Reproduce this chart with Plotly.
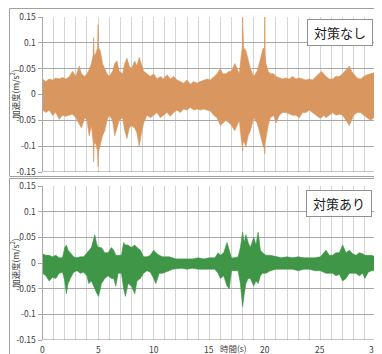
import plotly.graph_objects as go

# ---- data (upper / lower envelope of each waveform) ----
t_before = [0.0, 0.3, 0.6, 0.9, 1.2, 1.5, 1.8, 2.1, 2.4, 2.7, 3.0, 3.3, 3.5, 3.8, 4.0, 4.2, 4.4, 4.55, 4.6, 4.65,
            4.8, 4.95, 5.0, 5.05, 5.2, 5.4, 5.6, 5.8, 6.0, 6.3, 6.5, 6.7, 6.9, 7.2, 7.4, 7.6, 7.8, 8.0, 8.3, 8.5,
            8.7, 8.9, 9.1, 9.4, 9.7, 10.0, 10.3, 10.6, 10.9, 11.2, 11.5, 11.8, 12.1, 12.4, 12.7, 13.0, 13.3,
            13.6, 13.9, 14.2, 14.5, 14.8, 15.1, 15.4, 15.7, 16.0, 16.2, 16.5, 16.8, 17.0, 17.3, 17.5, 17.7,
            17.9, 17.97, 18.0, 18.03, 18.1, 18.3, 18.5, 18.7, 19.0, 19.3, 19.5, 19.7, 19.85, 19.97, 20.0, 20.03,
            20.1, 20.3, 20.5, 20.8, 21.0, 21.3, 21.6, 21.9, 22.2, 22.5, 22.8, 23.1, 23.4, 23.7, 24.0, 24.3,
            24.6, 24.9, 25.1, 25.3, 25.5, 25.8, 26.1, 26.4, 26.7, 27.0, 27.3, 27.6, 27.8, 28.0, 28.3, 28.6,
            28.9, 29.2, 29.5, 29.8, 30.0]
up_before = [0.030, 0.025, 0.030, 0.028, 0.032, 0.030, 0.033, 0.030, 0.034, 0.045, 0.035, 0.055, 0.040, 0.035,
             0.040, 0.048, 0.060, 0.075, 0.110, 0.075, 0.080, 0.090, 0.135, 0.090, 0.085, 0.060, 0.050, 0.040,
             0.035, 0.045, 0.060, 0.065, 0.045, 0.040, 0.060, 0.070, 0.055, 0.050, 0.065, 0.055, 0.072, 0.060,
             0.045, 0.040, 0.035, 0.040, 0.030, 0.035, 0.030, 0.038, 0.030, 0.035, 0.028, 0.025, 0.022, 0.028,
             0.020, 0.025, 0.022, 0.025, 0.028, 0.030, 0.028, 0.035, 0.040, 0.050, 0.040, 0.040, 0.045, 0.045,
             0.060, 0.050, 0.040, 0.080, 0.090, 0.150, 0.095, 0.090, 0.085, 0.065, 0.050, 0.035, 0.045, 0.060,
             0.075, 0.090, 0.085, 0.150, 0.080, 0.060, 0.045, 0.040, 0.040, 0.035, 0.032, 0.030, 0.032, 0.030,
             0.035, 0.030, 0.032, 0.030, 0.028, 0.030, 0.028, 0.035, 0.040, 0.045, 0.040, 0.035, 0.030, 0.030,
             0.035, 0.035, 0.040, 0.048, 0.055, 0.045, 0.040, 0.032, 0.030, 0.035, 0.038, 0.040, 0.042, 0.040]
lo_before = [-0.030, -0.035, -0.030, -0.040, -0.035, -0.048, -0.040, -0.042, -0.040, -0.038, -0.045, -0.058,
             -0.065, -0.045, -0.050, -0.080, -0.060, -0.090, -0.130, -0.095, -0.095, -0.110, -0.140, -0.110,
             -0.100, -0.080, -0.070, -0.050, -0.040, -0.050, -0.080, -0.065, -0.050, -0.045, -0.070, -0.085,
             -0.065, -0.060, -0.065, -0.075, -0.100, -0.075, -0.055, -0.040, -0.045, -0.040, -0.035, -0.045,
             -0.040, -0.035, -0.042, -0.035, -0.030, -0.035, -0.028, -0.030, -0.025, -0.030, -0.028, -0.030,
             -0.028, -0.030, -0.032, -0.040, -0.045, -0.060, -0.055, -0.050, -0.055, -0.060, -0.070, -0.060,
             -0.050, -0.090, -0.100, -0.110, -0.095, -0.090, -0.100, -0.080, -0.070, -0.045, -0.055, -0.070,
             -0.085, -0.100, -0.105, -0.115, -0.095, -0.085, -0.060, -0.045, -0.040, -0.055, -0.040, -0.035,
             -0.035, -0.038, -0.040, -0.040, -0.045, -0.035, -0.035, -0.030, -0.035, -0.040, -0.045, -0.045,
             -0.040, -0.045, -0.040, -0.035, -0.040, -0.038, -0.040, -0.050, -0.060, -0.050, -0.040, -0.035,
             -0.035, -0.040, -0.045, -0.050, -0.045, -0.045]

t_after = [0.0, 0.3, 0.6, 0.9, 1.2, 1.5, 1.8, 2.0, 2.15, 2.3, 2.5, 2.8, 3.1, 3.4, 3.7, 4.0, 4.15, 4.4, 4.7, 4.9,
           5.05, 5.3, 5.6, 5.9, 6.2, 6.4, 6.6, 6.8, 7.1, 7.3, 7.45, 7.7, 8.0, 8.3, 8.5, 8.8, 9.1, 9.4, 9.7, 10.0,
           10.2, 10.5, 10.8, 11.1, 11.4, 11.7, 12.0, 12.5, 13.0, 13.5, 14.0, 14.5, 15.0, 15.5, 15.8, 16.0, 16.3,
           16.6, 16.8, 17.0, 17.3, 17.6, 17.8, 18.0, 18.15, 18.3, 18.5, 18.7, 19.0, 19.2, 19.4, 19.6, 19.8, 20.1,
           20.5, 21.0, 21.5, 22.0, 22.5, 23.0, 23.5, 24.0, 24.5, 25.0, 25.3, 25.5, 25.8, 26.1, 26.4, 26.7, 27.0,
           27.3, 27.6, 27.9, 28.2, 28.5, 28.8, 29.0, 29.3, 29.6, 30.0]
up_after = [0.018, 0.015, 0.015, 0.012, 0.015, 0.010, 0.010, 0.030, 0.035, 0.025, 0.020, 0.012, 0.010, 0.012,
            0.012, 0.020, 0.025, 0.030, 0.055, 0.035, 0.030, 0.030, 0.020, 0.020, 0.030, 0.025, 0.015, 0.015,
            0.015, 0.040, 0.035, 0.035, 0.030, 0.035, 0.030, 0.025, 0.012, 0.012, 0.015, 0.025, 0.020, 0.015,
            0.012, 0.012, 0.012, 0.010, 0.008, 0.008, 0.008, 0.008, 0.010, 0.008, 0.010, 0.010, 0.020, 0.015,
            0.020, 0.040, 0.025, 0.010, 0.010, 0.012, 0.030, 0.060, 0.040, 0.055, 0.040, 0.030, 0.050, 0.035,
            0.060, 0.025, 0.020, 0.015, 0.015, 0.012, 0.010, 0.012, 0.010, 0.012, 0.010, 0.010, 0.010, 0.012,
            0.020, 0.025, 0.015, 0.015, 0.020, 0.020, 0.035, 0.020, 0.025, 0.018, 0.015, 0.020, 0.018, 0.015,
            0.015, 0.015, 0.012]
lo_after = [-0.020, -0.025, -0.035, -0.028, -0.030, -0.020, -0.018, -0.035, -0.060, -0.040, -0.030, -0.018,
            -0.015, -0.020, -0.018, -0.025, -0.040, -0.035, -0.050, -0.060, -0.065, -0.040, -0.030, -0.025,
            -0.030, -0.030, -0.045, -0.020, -0.020, -0.050, -0.065, -0.040, -0.045, -0.060, -0.035, -0.030,
            -0.020, -0.015, -0.018, -0.030, -0.040, -0.020, -0.020, -0.018, -0.015, -0.012, -0.012, -0.010,
            -0.012, -0.010, -0.012, -0.012, -0.012, -0.012, -0.020, -0.030, -0.025, -0.045, -0.050, -0.015,
            -0.015, -0.015, -0.040, -0.085, -0.060, -0.040, -0.030, -0.030, -0.045, -0.035, -0.040, -0.025,
            -0.020, -0.020, -0.015, -0.012, -0.012, -0.012, -0.012, -0.015, -0.012, -0.012, -0.015, -0.015,
            -0.018, -0.020, -0.020, -0.020, -0.025, -0.022, -0.035, -0.030, -0.020, -0.020, -0.020, -0.025,
            -0.020, -0.030, -0.018, -0.015, -0.015]

y_ticks = [-0.15, -0.1, -0.05, 0, 0.05, 0.1, 0.15]
y_tick_labels = ["-0.15", "-0.1", "-0.05", "0", "0.05", "0.1", "0.15"]
x_ticks = [0, 5, 10, 15, 20, 25, 30]
x_tick_labels = ["0", "5", "10", "15", "20", "25", "30"]
label_before = "対策なし"
label_after = "対策あり"
y_title = "加速度(m/s<sup>2</sup>)"
x_title = "時間(s)"

ORANGE = "#D9975F"
GREEN = "#3E9646"
FONT = "Noto Sans CJK JP"

# page has an 8px body margin; figure occupies the rest of the 382x354 window
OFF = 8
W, H = 382 - OFF, 354 - OFF


def px(x):
    return (x - OFF) / W


def py(y):
    return 1 - (y - OFF) / H


fig = go.Figure()


def band(t, up, lo, color, xa, ya):
    xs = list(t) + list(reversed(t))
    ys = list(up) + list(reversed(lo))
    fig.add_trace(go.Scatter(x=xs, y=ys, mode="lines", fill="toself", fillcolor=color,
                             line=dict(color=color, width=0.6), xaxis=xa, yaxis=ya,
                             showlegend=False, hoverinfo="skip"))


band(t_before, up_before, lo_before, ORANGE, "x", "y")
band(t_after, up_after, lo_after, GREEN, "x2", "y2")

xl, xr = px(42.5), px(376)
dom_top = [py(172), py(17)]
dom_bot = [py(340), py(186)]

GRIDV = "#D4D4D4"
xcommon = dict(range=[0, 30], dtick=1, tick0=0, showgrid=True, gridcolor=GRIDV, gridwidth=1.3,
               zeroline=False, showline=False, domain=[xl, xr], fixedrange=True, ticks="",
               showticklabels=False)
ycommon = dict(range=[-0.15, 0.15], tickvals=y_ticks, ticktext=y_tick_labels, showgrid=True,
               gridcolor="#A8A8A8", gridwidth=1, zeroline=False, showline=True, linecolor="#A8A8A8",
               linewidth=1, ticks="outside", ticklen=4, tickcolor="#A8A8A8",
               tickfont=dict(family=FONT, size=8.5, color="#404040"), fixedrange=True)

fig.update_layout(
    width=W, height=H, margin=dict(l=0, r=0, t=0, b=0, autoexpand=False),
    paper_bgcolor="white", plot_bgcolor="white",
    xaxis=dict(**xcommon, anchor="y"),
    yaxis=dict(**ycommon, domain=dom_top, anchor="x"),
    xaxis2=dict(**xcommon, anchor="y2"),
    yaxis2=dict(**ycommon, domain=dom_bot, anchor="x2"),
)

# x tick labels of the bottom panel, placed on the x2 scale
for v, s in zip(x_ticks, x_tick_labels):
    fig.add_annotation(x=v, y=py(349), xref="x2", yref="paper", xanchor="center", yanchor="middle",
                       xshift=-2 if v == x_ticks[-1] else 0,
                       text=s, showarrow=False, font=dict(family=FONT, size=8.5, color="#404040"))

fig.add_annotation(x=px(233), y=py(348), xref="paper", yref="paper", xanchor="center", yanchor="middle",
                   text=x_title, showarrow=False, font=dict(family=FONT, size=8.5, color="#404040"))

# y axis titles
for yc in (py(94), py(263)):
    fig.add_annotation(x=px(14), y=yc, xref="paper", yref="paper", xanchor="center", yanchor="middle",
                       text=y_title, textangle=-90,
                       showarrow=False, font=dict(family=FONT, size=8.5, color="#404040"))

# legend-like boxes
fig.add_annotation(x=px(339.5), y=py(33), xref="paper", yref="paper", xanchor="center", yanchor="middle",
                   text=label_before, showarrow=False, font=dict(family=FONT, size=13, color="#202020"),
                   bgcolor="white", bordercolor="#909090", borderwidth=1, width=62, height=23)
fig.add_annotation(x=px(339), y=py(203), xref="paper", yref="paper", xanchor="center", yanchor="middle",
                   text=label_after, showarrow=False, font=dict(family=FONT, size=13, color="#202020"),
                   bgcolor="white", bordercolor="#909090", borderwidth=1, width=62, height=23)

# panel frames
fig.add_shape(type="rect", xref="paper", yref="paper", x0=px(9.5), x1=px(392), y0=py(176.5),
              y1=py(8.5), line=dict(color="#A0A0A0", width=1), layer="below")
fig.add_shape(type="rect", xref="paper", yref="paper", x0=px(9.5), x1=px(392), y0=py(370),
              y1=py(178.5), line=dict(color="#A0A0A0", width=1), layer="below")
# bottom axis lines
for xa, ya in (("x", "y"), ("x2", "y2")):
    fig.add_shape(type="line", xref=xa, yref=ya, x0=0, x1=30, y0=-0.15, y1=-0.15,
                  line=dict(color="#8C8C8C", width=1))

fig.write_html("out.html",
               post_script="document.documentElement.style.overflow='hidden';"
                           "document.body.style.overflow='hidden';")
